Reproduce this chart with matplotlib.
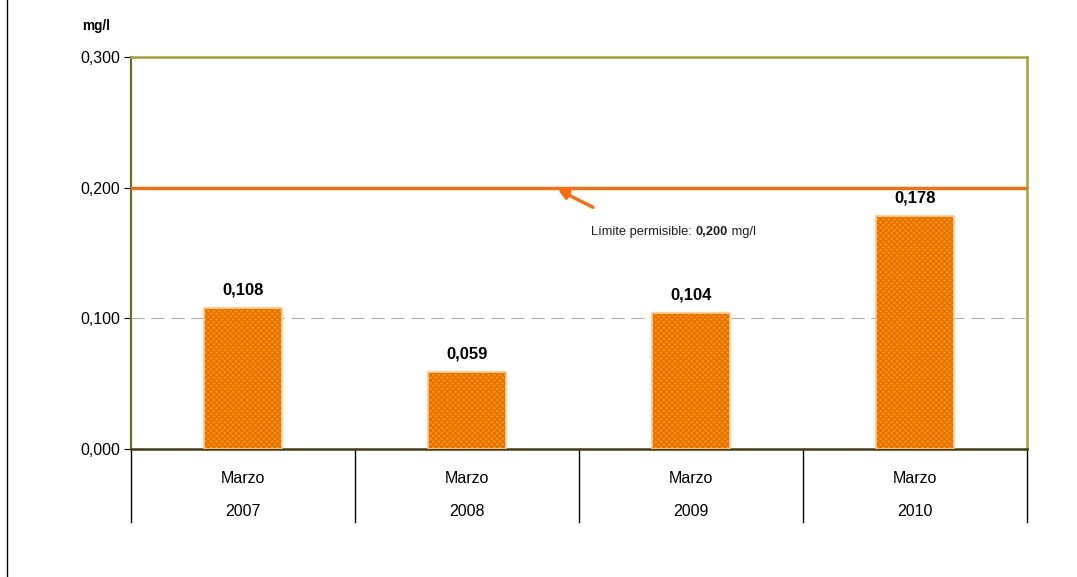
import matplotlib
matplotlib.use('Agg')
import matplotlib.pyplot as plt
import matplotlib.transforms as mtransforms
from matplotlib.lines import Line2D

plt.rcParams['font.family'] = ['Liberation Sans', 'DejaVu Sans']

meses = ['Marzo', 'Marzo', 'Marzo', 'Marzo']
anios = ['2007', '2008', '2009', '2010']
valores = [0.108, 0.059, 0.104, 0.178]
limite = 0.200
yticks = [0.0, 0.1, 0.2, 0.3]

fig = plt.figure(figsize=(10.77, 5.77), dpi=100)
ax = fig.add_axes([0.1216, 0.2218, 0.832, 0.6794])

x = list(range(len(valores)))
# relleno con trama y borde claro, como las barras de Excel
ax.bar(x, valores, width=0.345, color='#FF9000', hatch='xxxxxx',
       edgecolor='#E07000', linewidth=0, zorder=3)
ax.bar(x, valores, width=0.345, fill=False, edgecolor='#FFC890',
       linewidth=1.2, zorder=4)

for xi, v in zip(x, valores):
    ax.annotate(f'{v:.3f}'.replace('.', ','), xy=(xi, v), xytext=(0, 10),
                textcoords='offset points', ha='center', va='baseline',
                fontsize=12, fontweight='bold')

# rejilla y limite
ax.axhline(0.1, color='#B0B0B0', linewidth=0.8, linestyle=(0, (12, 6)), zorder=1)
ax.axhline(limite, color='#FF6A0A', linewidth=2.4, zorder=5)

ax.annotate('', xy=(1.406, 0.1985), xytext=(1.5625, 0.185),
            arrowprops=dict(arrowstyle='-|>', color='#FF6A0A', lw=2.4,
                            mutation_scale=14, shrinkA=0, shrinkB=0), zorder=6)

t1 = ax.text(1.554, 0.1635, 'Límite permisible: ', fontsize=9.3,
             ha='left', va='baseline', color='#202020')
t2 = ax.annotate('0,200', xycoords=t1, xy=(1, 0), va='bottom', ha='left',
                 fontsize=9.3, fontweight='bold', color='#202020')
ax.annotate(' mg/l', xycoords=t2, xy=(1, 0), va='bottom', ha='left',
            fontsize=9.3, color='#202020')

ax.set_xlim(-0.5, len(valores) - 0.5)
ax.set_ylim(0, 0.3)
ax.set_yticks(yticks)
ax.set_yticklabels([f'{t:.3f}'.replace('.', ',') for t in yticks], fontsize=11.5)
ax.tick_params(axis='y', length=5, width=0.8, color='black', pad=3)
ax.set_xticks([])

for s in ['top', 'right']:
    ax.spines[s].set_color('#A3A32E')
    ax.spines[s].set_linewidth(1.8)
ax.spines['left'].set_color('#6B6B1E')
ax.spines['left'].set_linewidth(1.5)
ax.spines['bottom'].set_color('#3E3E10')
ax.spines['bottom'].set_linewidth(1.8)

# etiquetas de categoria en dos niveles con separadores
trans = mtransforms.blended_transform_factory(ax.transData, ax.transAxes)
for xb in [i - 0.5 for i in range(len(valores) + 1)]:
    ax.add_line(Line2D([xb, xb], [0, -0.186], transform=trans, color='black',
                       linewidth=1, clip_on=False))
for xi, m, a in zip(x, meses, anios):
    ax.text(xi, -0.075, m, transform=trans, ha='center', va='center', fontsize=11.5)
    ax.text(xi, -0.16, a, transform=trans, ha='center', va='center', fontsize=11.5)

fig.text(0.076, 0.955, 'mg/l', fontsize=9.8, fontweight='bold',
         ha='left', va='center')

# borde izquierdo del marco
fig.add_artist(Line2D([0.0068, 0.0068], [0, 1], transform=fig.transFigure,
                      color='black', linewidth=1))

fig.savefig('out.png', dpi=100)
